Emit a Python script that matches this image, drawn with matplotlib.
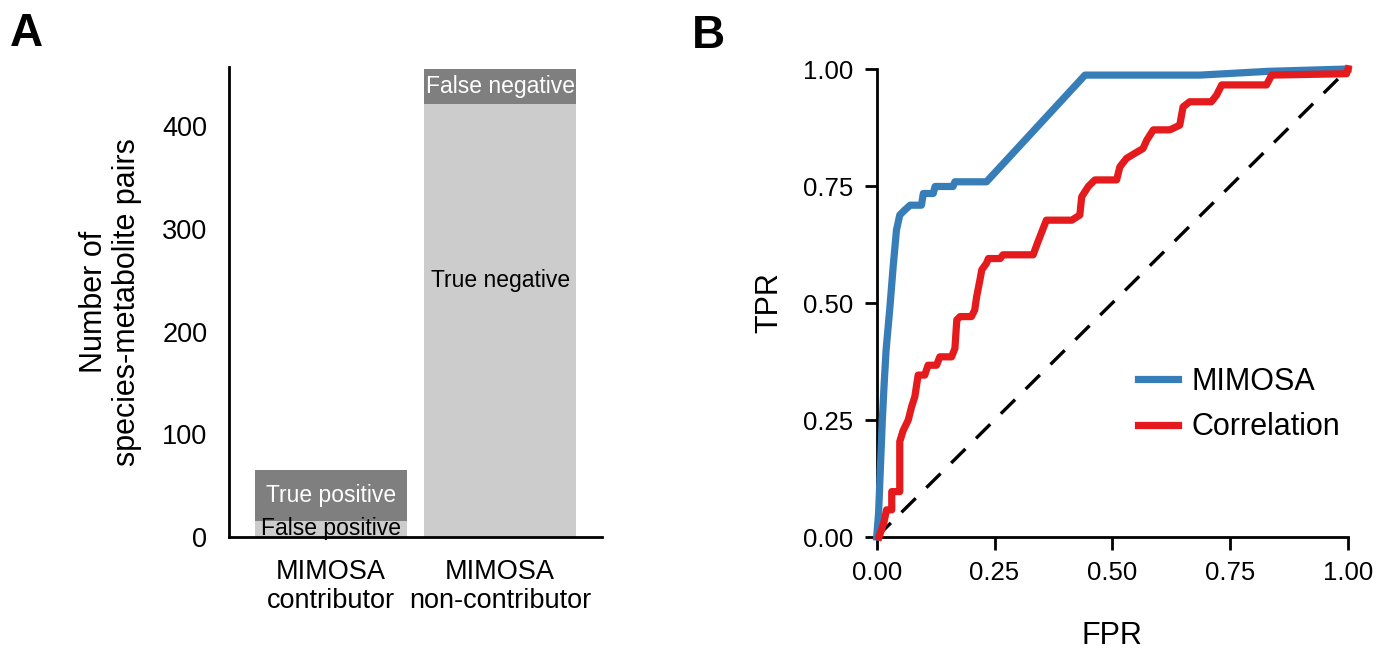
import matplotlib
matplotlib.use("Agg")
import matplotlib.pyplot as plt

plt.rcParams['font.family'] = ['Liberation Sans', 'DejaVu Sans']

# --- panel A data ---
categories = ["MIMOSA\ncontributor", "MIMOSA\nnon-contributor"]
lower_counts = [16, 422]    # false positive, true negative
upper_counts = [49, 34]     # true positive, false negative
lower_labels = ["False positive", "True negative"]
upper_labels = ["True positive", "False negative"]
lower_label_y = [8, 250]

# --- panel B data ---
mimosa_fpr = [0, 0.004, 0.008, 0.012, 0.016, 0.02, 0.028, 0.035, 0.042, 0.049,
              0.06, 0.071, 0.095, 0.099, 0.12, 0.124, 0.162, 0.166, 0.233,
              0.442, 0.686, 0.83, 1.0]
mimosa_tpr = [0, 0.05, 0.15, 0.25, 0.33, 0.40, 0.49, 0.578, 0.656, 0.688,
              0.699, 0.709, 0.709, 0.734, 0.734, 0.749, 0.749, 0.759, 0.759,
              0.987, 0.987, 0.995, 1.0]

corr_fpr = [0.005, 0.015, 0.021, 0.032, 0.032, 0.049, 0.049, 0.056, 0.067, 0.074,
            0.081, 0.088, 0.102, 0.109, 0.127, 0.134, 0.159, 0.166, 0.17, 0.177,
            0.201, 0.208, 0.212, 0.219, 0.223, 0.233, 0.237, 0.262, 0.268, 0.332,
            0.34, 0.36, 0.414, 0.431, 0.435, 0.449, 0.463, 0.509, 0.516, 0.53,
            0.548, 0.565, 0.573, 0.587, 0.622, 0.643, 0.65, 0.664, 0.71, 0.721,
            0.732, 0.827, 0.838, 0.997, 1.0]
corr_tpr = [0, 0.03, 0.058, 0.058, 0.097, 0.097, 0.204, 0.227, 0.25, 0.278,
            0.30, 0.346, 0.346, 0.367, 0.367, 0.385, 0.385, 0.403, 0.464, 0.471,
            0.471, 0.485, 0.513, 0.549, 0.571, 0.585, 0.595, 0.595, 0.603, 0.603,
            0.625, 0.677, 0.677, 0.688, 0.727, 0.749, 0.763, 0.763, 0.791, 0.809,
            0.82, 0.83, 0.848, 0.87, 0.87, 0.88, 0.919, 0.93, 0.93, 0.944,
            0.966, 0.966, 0.987, 0.99, 1.0]

light_gray = "#cccccc"
dark_gray = "#7f7f7f"
blue = "#377eb8"
red = "#e41a1c"

fig = plt.figure(figsize=(13.9, 6.56), dpi=100)

# ---------------- panel A ----------------
ax1 = fig.add_axes([0.1651, 0.1814, 0.2678, 0.7169])
x = list(range(len(categories)))
ax1.bar(x, lower_counts, width=0.9, color=light_gray)
ax1.bar(x, upper_counts, width=0.9, bottom=lower_counts, color=dark_gray)
for i in x:
    ax1.text(i, lower_label_y[i], lower_labels[i], ha="center", va="center",
             fontsize=16.5, color="black")
    ax1.text(i, lower_counts[i] + upper_counts[i] / 2, upper_labels[i],
             ha="center", va="center", fontsize=16.5, color="white")
ax1.set_xlim(-0.6, 1.6)
ax1.set_ylim(0, 458)
ax1.set_xticks(x)
ax1.set_xticklabels(categories, fontsize=19.5, linespacing=1.12)
ax1.set_yticks([0, 100, 200, 300, 400])
ax1.tick_params(axis="y", length=0, pad=16, labelsize=19.5)
ax1.tick_params(axis="x", length=0, pad=16)
for s in ["top", "right"]:
    ax1.spines[s].set_visible(False)
for s in ["left", "bottom"]:
    ax1.spines[s].set_linewidth(2)
ax1.set_ylabel("Number of\nspecies-metabolite pairs", fontsize=22, linespacing=1.12)
ax1.yaxis.set_label_coords(-0.235, 0.5)

# ---------------- panel B ----------------
ax2 = fig.add_axes([0.6307, 0.1814, 0.3391, 0.7134])
ax2.plot([0, 1], [0, 1], color="black", lw=2.4, linestyle=(0, (6, 4.5)), zorder=1)
ax2.plot(mimosa_fpr, mimosa_tpr, color=blue, lw=5.2, label="MIMOSA",
         clip_on=False, zorder=3)
ax2.plot(corr_fpr, corr_tpr, color=red, lw=5.2, label="Correlation",
         clip_on=False, zorder=4)
ax2.set_xlim(0, 1)
ax2.set_ylim(0, 1)
ticks = [0, 0.25, 0.5, 0.75, 1.0]
ax2.set_xticks(ticks)
ax2.set_yticks(ticks)
ax2.set_xticklabels([f"{t:.2f}" for t in ticks])
ax2.set_yticklabels([f"{t:.2f}" for t in ticks])
ax2.tick_params(length=9, width=2, pad=8, labelsize=18.5)
for s in ["top", "right"]:
    ax2.spines[s].set_visible(False)
for s in ["left", "bottom"]:
    ax2.spines[s].set_linewidth(2)
ax2.set_xlabel("FPR", fontsize=22)
ax2.set_ylabel("TPR", fontsize=22)
ax2.xaxis.set_label_coords(0.5, -0.18)
ax2.yaxis.set_label_coords(-0.195, 0.5)
ax2.legend(loc="center left", bbox_to_anchor=(0.554, 0.283), frameon=False,
           fontsize=22, handlelength=1.3, handletextpad=0.45, labelspacing=0.5,
           borderpad=0, borderaxespad=0)

fig.text(0.007, 0.981, "A", fontsize=33, fontweight="bold", va="top", ha="left")
fig.text(0.498, 0.978, "B", fontsize=33, fontweight="bold", va="top", ha="left")

fig.savefig("out.png", dpi=100)
